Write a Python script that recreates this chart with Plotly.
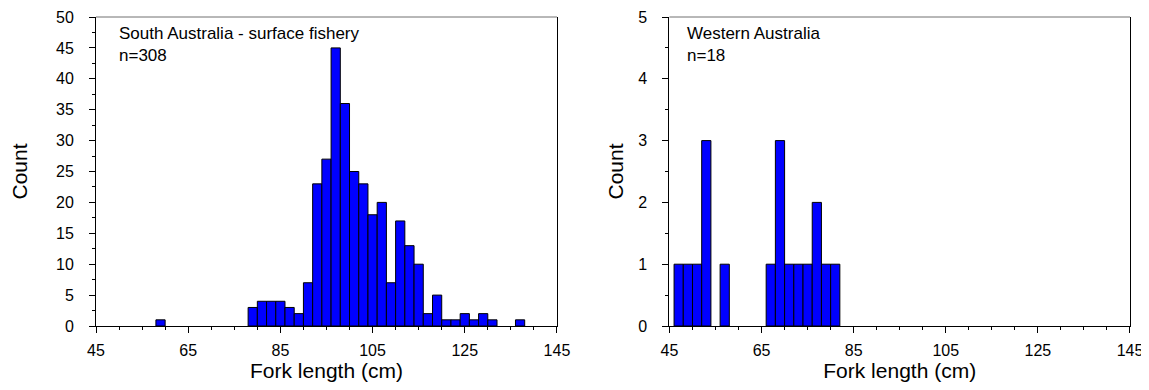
import plotly.graph_objects as go
from plotly.subplots import make_subplots

# South Australia - surface fishery (2 cm bins, centres)
sa_bins = [59, 79, 81, 83, 85, 87, 89, 91, 93, 95, 97, 99, 101, 103, 105, 107,
           109, 111, 113, 115, 117, 119, 121, 123, 125, 127, 129, 131, 137]
sa_counts = [1, 3, 4, 4, 4, 3, 2, 7, 23, 27, 45, 36, 25, 23, 18, 20,
             7, 17, 13, 10, 2, 5, 1, 1, 2, 1, 2, 1, 1]

# Western Australia
wa_bins = [47, 49, 51, 53, 57, 67, 69, 71, 73, 75, 77, 79, 81]
wa_counts = [1, 1, 1, 3, 1, 1, 3, 1, 1, 1, 2, 1, 1]

x_ticks = [45, 65, 85, 105, 125, 145]
sa_label = "South Australia - surface fishery<br>n=308"
wa_label = "Western Australia<br>n=18"

FONT = "Arial, Liberation Sans, sans-serif"

# page body has an 8px margin, so the figure is sized/offset to land on the window
fig = make_subplots(rows=1, cols=2, horizontal_spacing=0.1092)
fig.update_layout(
    width=1141, height=382,
    margin=dict(l=88, r=19, t=9, b=64, autoexpand=False),
    paper_bgcolor="white", plot_bgcolor="white",
    showlegend=False,
    font=dict(family=FONT, color="black"),
)

bar_style = dict(marker=dict(color="#0000FF", line=dict(color="black", width=1)), width=2)
fig.add_trace(go.Bar(x=sa_bins, y=sa_counts, **bar_style), row=1, col=1)
fig.add_trace(go.Bar(x=wa_bins, y=wa_counts, **bar_style), row=1, col=2)

fig.update_layout(xaxis=dict(domain=[0, 0.4458]), xaxis2=dict(domain=[0.5546, 1.0]))

xcommon = dict(
    range=[45, 145], tickvals=x_ticks, ticks="outside", ticklen=6, tickwidth=1,
    tickcolor="black", showline=True, linecolor="black", linewidth=1,
    showgrid=False, zeroline=False, tickfont=dict(size=16, family=FONT),
    minor=dict(dtick=5, ticks="outside", ticklen=3, tickcolor="black", showgrid=False),
    title=dict(text="Fork length (cm)", font=dict(size=21, family=FONT), standoff=3),
    ticklabelstandoff=4, automargin=False,
)
fig.update_xaxes(**xcommon)

ycommon = dict(
    ticks="outside", ticklen=6, tickwidth=1, tickcolor="black",
    showline=True, linecolor="black", linewidth=1, mirror=True,
    showgrid=False, zeroline=False, tickfont=dict(size=16, family=FONT),
    ticklabelstandoff=12, automargin=False,
)
fig.update_yaxes(**ycommon)
fig.update_yaxes(range=[0, 50], dtick=5,
                 minor=dict(dtick=2.5, ticks="outside", ticklen=3, tickcolor="black", showgrid=False),
                 title=dict(text="Count", font=dict(size=21, family=FONT), standoff=26),
                 row=1, col=1)
fig.update_yaxes(range=[0, 5], dtick=1,
                 minor=dict(dtick=0.5, ticks="outside", ticklen=3, tickcolor="black", showgrid=False),
                 title=dict(text="Count", font=dict(size=21, family=FONT), standoff=9),
                 row=1, col=2)

# gray top border lines
for xr, yr in [("x domain", "y domain"), ("x2 domain", "y2 domain")]:
    fig.add_shape(type="line", xref=xr, yref=yr, x0=0, x1=1, y0=1, y1=1,
                  line=dict(color="#707070", width=1))

fig.add_annotation(text=sa_label, xref="x domain", yref="y domain", x=0.045, y=0.985,
                   xanchor="left", yanchor="top", showarrow=False, align="left",
                   font=dict(size=17, family=FONT, color="black"))
fig.add_annotation(text=wa_label, xref="x2 domain", yref="y2 domain", x=0.034, y=0.985,
                   xanchor="left", yanchor="top", showarrow=False, align="left",
                   font=dict(size=17, family=FONT, color="black"))

fig.write_html("out.html")
